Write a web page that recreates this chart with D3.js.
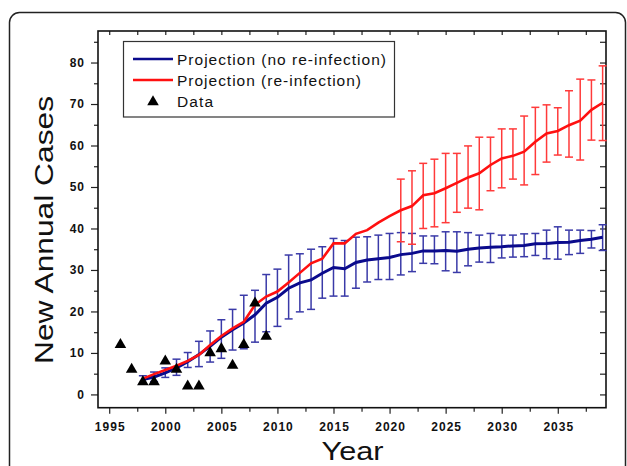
<!DOCTYPE html>
<html>
<head>
	<meta charset="utf-8">
	<title>New Annual Cases</title>
	<script src="https://d3js.org/d3.v7.min.js"></script>
	<style>
		body { margin: 0; background: #fff; }
		text { font-family: 'Liberation Sans', Arial, sans-serif; }
	</style>
</head>
<body>
	<div class="chart"></div>

	<script type="text/javascript">

		// 观测数据
		var dataYears = [1996, 1997, 1998, 1999, 2000, 2001, 2002, 2003, 2004, 2005, 2006, 2007, 2008, 2009]
		var dataCases = [12, 6, 3, 3, 8, 6, 2, 2, 10, 11, 7, 12, 22, 14]

		// 预测年份
		var projYears = d3.range(1998, 2040)

		// 预测 (无再感染)
		var noReinfMean = [3.6, 4.2, 5.2, 6.4, 7.9, 9.6, 11.6, 13.8, 15.6, 17.2, 19.2, 22.0, 23.4, 25.6, 26.9, 27.6, 29.2, 30.6, 30.3, 31.8, 32.4, 32.7, 33.0, 33.7, 34.0, 34.6, 34.6, 34.7, 34.5, 35.0, 35.3, 35.5, 35.6, 35.8, 35.9, 36.3, 36.4, 36.6, 36.7, 37.1, 37.4, 37.9]
		var noReinfHigh = [4.5, 5.4, 6.4, 8.5, 10.1, 12.8, 15.3, 18.0, 20.5, 23.9, 25.1, 28.9, 30.2, 33.6, 33.9, 35.0, 35.6, 37.6, 37.1, 37.9, 38.0, 38.4, 38.8, 39.0, 38.8, 38.2, 38.2, 39.2, 39.2, 39.0, 38.4, 38.8, 38.4, 38.4, 38.7, 38.8, 39.6, 40.4, 39.6, 39.6, 39.5, 40.9]
		var noReinfLow = [2.5, 3.1, 4.1, 4.6, 6.5, 6.7, 7.8, 8.7, 10.7, 11.0, 12.6, 15.1, 16.4, 18.2, 19.9, 20.5, 23.2, 23.7, 23.7, 25.6, 27.1, 27.7, 27.7, 28.8, 29.6, 31.6, 31.5, 29.8, 29.4, 31.0, 31.9, 31.8, 32.9, 33.1, 33.2, 33.5, 32.7, 32.6, 33.7, 34.0, 35.3, 34.7]

		// 预测 (再感染)
		var reinfMean = [3.8, 4.9, 5.9, 6.9, 8.1, 9.5, 11.9, 14.1, 15.9, 17.5, 21.6, 23.6, 24.8, 27.0, 29.3, 31.6, 32.7, 36.4, 36.4, 38.7, 39.6, 41.4, 43.0, 44.4, 45.4, 48.0, 48.5, 49.7, 51.0, 52.3, 53.3, 55.3, 56.9, 57.5, 58.5, 60.9, 62.9, 63.5, 64.9, 66.0, 68.6, 70.3]
		var reinfBarYears = d3.range(2021, 2040)
		var reinfHigh = [51.9, 53.9, 55.7, 56.7, 58.1, 58.1, 59.9, 62.0, 62.0, 64.0, 64.0, 67.1, 69.2, 69.8, 69.1, 73.2, 76.0, 75.8, 79.2]
		var reinfLow = [36.8, 36.2, 40.0, 40.4, 41.4, 43.9, 44.9, 44.5, 49.1, 49.8, 51.9, 50.5, 53.0, 56.0, 57.7, 57.2, 56.5, 61.3, 61.2]

		var xTicks = d3.range(1995, 2039, 2.5)
		var yTicks = d3.range(0, 86, 5)

		var width = 627
		var height = 466

		var blue = '#0a0a8c'
		var blueBar = '#3a3aa8'
		var red = '#ff1010'
		var redBar = '#ff3a3a'

		/**
		 * 画布
		 */
		var svg = d3
			.select('.chart')
			.append('svg')
			.attr('width', width)
			.attr('height', height)

		// 外框(圆角)
		svg.append('rect')
			.attr('x', 9.5)
			.attr('y', 12.5)
			.attr('width', 616)
			.attr('height', 480)
			.attr('rx', 10)
			.attr('fill', 'none')
			.attr('stroke', '#222')
			.attr('stroke-width', 1.5)

		/**
		 * 比例尺
		 */
		var x = d3.scaleLinear().domain([1994, 2039.3]).range([98, 606])
		var y = d3.scaleLinear().domain([-3.2, 87.6]).range([407.7, 31])

		/**
		 * 坐标轴
		 */
		var bottomAxis = svg.append('g')
			.attr('transform', `translate(0, ${y.range()[0]})`)
			.call(d3.axisBottom(x).tickValues(xTicks).tickSize(6).tickPadding(9)
				.tickFormat((d) => d % 5 === 0 ? d : ''))
		var leftAxis = svg.append('g')
			.attr('transform', `translate(${x.range()[0]}, 0)`)
			.call(d3.axisLeft(y).tickValues(yTicks).tickSize(7).tickPadding(6)
				.tickFormat((d) => d % 10 === 0 ? d : ''))
		var topAxis = svg.append('g')
			.attr('transform', `translate(0, ${y.range()[1]})`)
			.call(d3.axisBottom(x).tickValues(xTicks).tickSize(4).tickFormat(''))
		var rightAxis = svg.append('g')
			.attr('transform', `translate(${x.range()[1]}, 0)`)
			.call(d3.axisLeft(y).tickValues(yTicks).tickSize(6).tickFormat(''))

		// 次刻度短一点
		bottomAxis.selectAll('.tick line').attr('y2', (d) => d % 5 === 0 ? 6 : 4)
		leftAxis.selectAll('.tick line').attr('x2', (d) => d % 10 === 0 ? -7 : -4)

		;[bottomAxis, leftAxis, topAxis, rightAxis].forEach(function(a) {
			a.select('.domain').remove()
			a.selectAll('.tick line').attr('stroke', '#222').attr('stroke-width', 1.2)
			a.selectAll('text')
				.attr('fill', '#111')
				.style('font-size', '12px')
				.style('font-weight', 'bold')
				.style('letter-spacing', '1px')
		})
		bottomAxis.selectAll('text').attr('dx', '0.5px')

		// 绘图区边框
		svg.append('rect')
			.attr('x', x.range()[0])
			.attr('y', y.range()[1])
			.attr('width', x.range()[1] - x.range()[0])
			.attr('height', y.range()[0] - y.range()[1])
			.attr('fill', 'none')
			.attr('stroke', '#111')
			.attr('stroke-width', 1.6)

		/**
		 * 误差棒
		 */
		function drawBars(years, low, high, color) {
			var g = svg.append('g').attr('stroke', color).attr('stroke-width', 1.5).attr('fill', 'none')
			years.forEach(function(yr, i) {
				var cx = x(yr)
				g.append('line').attr('x1', cx).attr('x2', cx).attr('y1', y(low[i])).attr('y2', y(high[i]))
				g.append('line').attr('x1', cx - 4).attr('x2', cx + 4).attr('y1', y(low[i])).attr('y2', y(low[i]))
				g.append('line').attr('x1', cx - 4).attr('x2', cx + 4).attr('y1', y(high[i])).attr('y2', y(high[i]))
			})
		}
		drawBars(projYears, noReinfLow, noReinfHigh, blueBar)
		drawBars(reinfBarYears, reinfLow, reinfHigh, redBar)

		/**
		 * 曲线
		 */
		var line = d3.line()
			.x((d) => x(d[0]))
			.y((d) => y(d[1]))

		svg.append('path')
			.datum(d3.zip(projYears, noReinfMean))
			.attr('d', line)
			.attr('fill', 'none')
			.attr('stroke', blue)
			.attr('stroke-width', 3)

		svg.append('path')
			.datum(d3.zip(projYears, reinfMean))
			.attr('d', line)
			.attr('fill', 'none')
			.attr('stroke', red)
			.attr('stroke-width', 2.6)

		/**
		 * 观测点 (三角形)
		 */
		var tri = d3.symbol().type(d3.symbolTriangle).size(58)
		svg.append('g')
			.selectAll('path')
			.data(d3.zip(dataYears, dataCases))
			.enter()
			.append('path')
			.attr('d', tri)
			.attr('transform', (d) => `translate(${x(d[0])}, ${y(d[1])})`)
			.attr('fill', '#000')

		/**
		 * 图例
		 */
		var legend = svg.append('g')
		legend.append('rect')
			.attr('x', 123.5)
			.attr('y', 41.5)
			.attr('width', 271)
			.attr('height', 75.5)
			.attr('fill', '#fff')
			.attr('stroke', '#333')
			.attr('stroke-width', 1.2)

		var legendItems = [
			{ label: 'Projection (no re-infection)', color: blue, len: 209, type: 'line' },
			{ label: 'Projection (re-infection)', color: red, len: 184, type: 'line' },
			{ label: 'Data', color: '#000', len: 36, type: 'tri' }
		]
		legendItems.forEach(function(d, i) {
			var cy = 59 + i * 21
			if (d.type === 'line') {
				legend.append('line')
					.attr('x1', 133).attr('x2', 173)
					.attr('y1', cy).attr('y2', cy)
					.attr('stroke', d.color)
					.attr('stroke-width', 2.6)
			} else {
				legend.append('path')
					.attr('d', tri)
					.attr('transform', `translate(153, ${cy + 1})`)
					.attr('fill', d.color)
			}
			legend.append('text')
				.attr('x', 177)
				.attr('y', cy + 6)
				.attr('textLength', d.len)
				.attr('lengthAdjust', 'spacing')
				.style('font-size', '15.5px')
				.attr('fill', '#111')
				.text(d.label)
		})

		/**
		 * 轴标题
		 */
		svg.append('text')
			.attr('transform', 'translate(53, 230) rotate(-90)')
			.attr('text-anchor', 'middle')
			.attr('textLength', 268)
			.attr('lengthAdjust', 'spacingAndGlyphs')
			.style('font-size', '26px')
			.attr('fill', '#111')
			.text('New Annual Cases')

		svg.append('text')
			.attr('x', 352.5)
			.attr('y', 460)
			.attr('text-anchor', 'middle')
			.attr('textLength', 62)
			.attr('lengthAdjust', 'spacingAndGlyphs')
			.style('font-size', '25px')
			.attr('fill', '#111')
			.text('Year')

	</script>
</body>
</html>
